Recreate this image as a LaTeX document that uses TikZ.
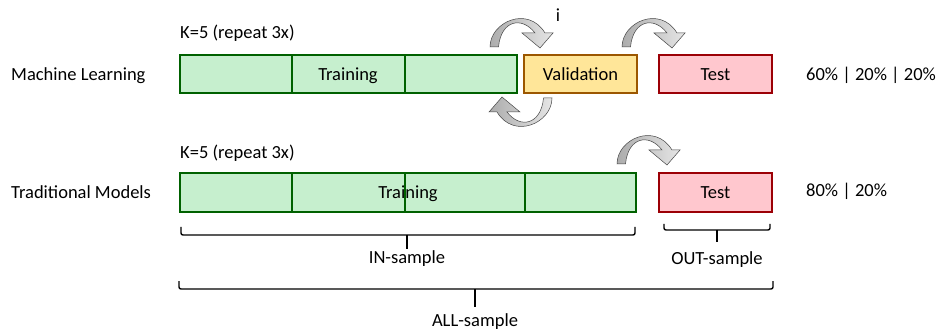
\documentclass[tikz,border=0pt]{standalone}
\usepackage{fontspec}
\setmainfont{Carlito}
\definecolor{gfill}{HTML}{C6EFCE}
\definecolor{gline}{HTML}{006100}
\definecolor{yfill}{HTML}{FFE699}
\definecolor{yline}{HTML}{9C5700}
\definecolor{rfill}{HTML}{FFC7CE}
\definecolor{rline}{HTML}{9C0006}
\begin{document}
\begin{tikzpicture}[x=1pt,y=-1pt,
  txt/.style={inner sep=0pt,anchor=base,font=\fontsize{18.5}{21}\selectfont},
  ltxt/.style={txt,anchor=base west},
  trainbox/.style={draw=gline,fill=gfill,line width=1.6pt},
  trainline/.style={draw=gline,line width=1.6pt},
  valbox/.style={draw=yline,fill=yfill,line width=1.6pt},
  testbox/.style={draw=rline,fill=rfill,line width=1.6pt},
  brace/.style={draw=black,line width=1.4pt,rounded corners=2pt},
  carrow/.pic={
    \path[draw=gray!55!black,line width=0.5pt,left color=gray!65,right color=gray!20]
      (0,0) .. controls (0,-25) and (38,-42) .. (55,-14) -- (63,-14) -- (50,1)
      -- (32,-14) -- (45,-14) .. controls (32,-31) and (11,-27) .. (8.5,0) -- cycle;
  }]
\useasboundingbox[fill=white] (0,0) rectangle (940,331);

% left labels
\node[ltxt] (ml) at (11,81) {Machine Learning};
\node[ltxt] (tm) at (11,199) {Traditional Models};
\node[ltxt] (k1) at (180,39) {K=5 (repeat 3x)};
\node[ltxt] (k2) at (180,159) {K=5 (repeat 3x)};
\node[ltxt] (p1) at (806,81) {60\% | 20\% | 20\%};
\node[ltxt] (p2) at (806,197) {80\% | 20\%};

% row 1
\path[trainbox] (180,55) rectangle (517,93);
\node[txt] (tr1) at (348,81) {Training};
\draw[trainline] (292,55) -- (292,93);
\draw[trainline] (405,55) -- (405,93);
\path[valbox] (524,55) rectangle (637,93);
\node[txt] (val) at (580.5,81) {Validation};
\path[testbox] (659,55) rectangle (772,93);
\node[txt] (te1) at (715.5,81) {Test};
\node[txt] (il) at (558,22) {i};

% row 2
\path[trainbox] (180,173) rectangle (636,212);
\node[txt] (tr2) at (408,199) {Training};
\draw[trainline] (292,173) -- (292,212);
\draw[trainline] (405,173) -- (405,212);
\draw[trainline] (525,173) -- (525,212);
\path[testbox] (659,173) rectangle (772,212);
\node[txt] (te2) at (715.5,199) {Test};

% curved arrows
\pic at (490,47) {carrow};
\pic at (622,47) {carrow};
\pic[rotate=180] at (552,98) {carrow};
\pic at (617,164) {carrow};

% braces
\draw[brace] (181,227) -- (181,235) -- (635,235) -- (635,227);
\draw[brace] (407,235) -- (407,249);
\node[txt] (ins) at (407,264) {IN-sample};
\draw[brace] (664,224) -- (664,230) -- (770,230) -- (770,224);
\draw[brace] (717,230) -- (717,242);
\node[txt] (outs) at (717,265) {OUT-sample};
\draw[brace] (179,281) -- (179,289) -- (773,289) -- (773,281);
\draw[brace] (475,289) -- (475,307);
\node[txt] (alls) at (475,326) {ALL-sample};
\end{tikzpicture}
\end{document}
